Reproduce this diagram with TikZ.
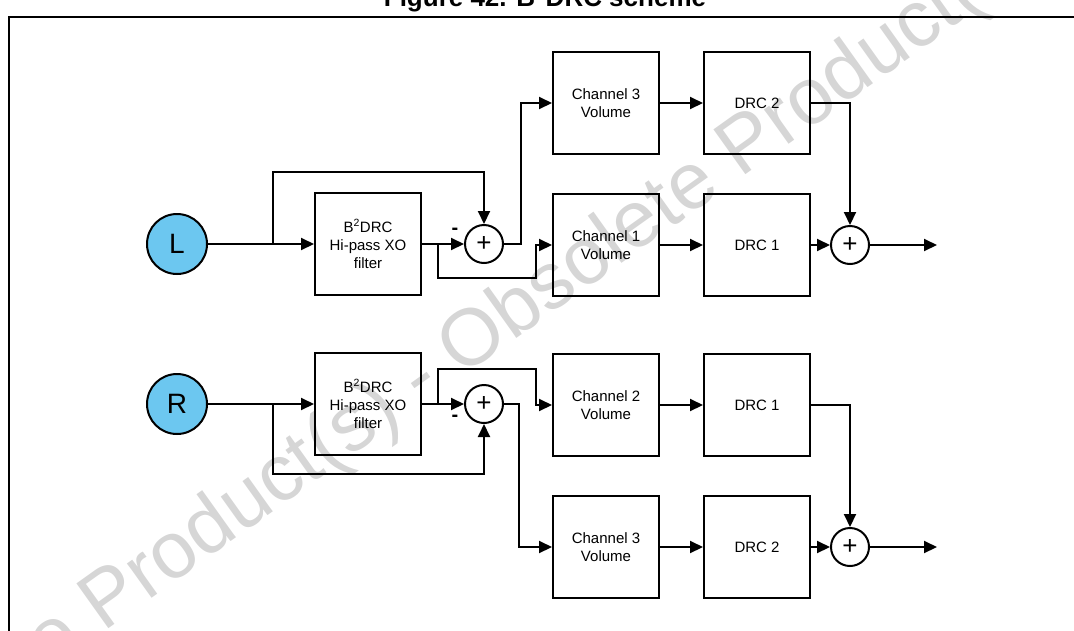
\documentclass[tikz,border=0pt]{standalone}
\usepackage{fontspec}
\setmainfont{Liberation Sans}
\usetikzlibrary{arrows.meta}
\definecolor{inblue}{RGB}{108,199,240}
\definecolor{wmgray}{RGB}{214,214,214}
\begin{document}
\begin{tikzpicture}[x=1pt,y=-1pt,
  blk/.style={draw, line width=2pt, minimum width=106pt, minimum height=102pt, inner sep=0pt, align=center, font=\fontsize{15}{18}\selectfont},
  sumnode/.style={draw, circle, line width=2pt, minimum size=38pt, inner sep=0pt, font=\fontsize{26}{26}\selectfont},
  src/.style={draw, circle, line width=2pt, fill=inblue, minimum size=60pt, inner sep=0pt, font=\fontsize{28}{28}\selectfont},
  arr/.style={line width=2pt, -{Triangle[length=13pt,width=12pt]}},
  minus/.style={font=\bfseries\fontsize{20}{20}\selectfont, inner sep=0pt}
]
\useasboundingbox (0,0) rectangle (1074,630);
\clip (0,0) rectangle (1074,630);

% watermark
\node[rotate=35.5, text=wmgray, font=\fontsize{80}{80}\selectfont, inner sep=0pt] (wm) at (421,381) {Obsolete Product(s) - Obsolete Product(s)};

% title and frame
\node[font=\bfseries\fontsize{26}{26}\selectfont, anchor=base, inner sep=0pt] (title) at (545,6) {Figure 42. B\textsuperscript{2}DRC scheme};
\draw[line width=1.8pt] (9,660) -- (9,17) -- (1100,17);

% ---------- top (L) ----------
\node[src] (L) at (177,244) {L};
\node[blk] (f1) at (368,244) {B\textsuperscript{2}DRC\\Hi-pass XO\\filter};
\node[sumnode] (s1) at (484,244) {+};
\node[blk] (c3a) at (606,103) {Channel 3\\Volume};
\node[blk] (c1) at (606,245) {Channel 1\\Volume};
\node[blk] (d2a) at (757,103) {DRC 2};
\node[blk] (d1a) at (757,245) {DRC 1};
\node[sumnode] (sa) at (850,245) {+};
\coordinate (o1) at (937,245);
\coordinate (b1) at (273,244);
\coordinate (t1) at (273,172);
\coordinate (k1) at (438,244);
\coordinate (m1) at (536,278);
\coordinate (u1) at (521,244);
\node[minus] (mn1) at (455,231) {-};

\draw[arr] (L.east) -- (L.east -| f1.west);
\draw[arr] (b1) -- (t1) -| (s1.north);
\draw[arr] (f1.east) -- (s1.west);
\draw[arr] (k1) |- (m1) |- (c1.west);
\draw[arr] (s1.east) -- (u1) |- (c3a.west);
\draw[arr] (c3a.east) -- (d2a.west);
\draw[arr] (c1.east) -- (d1a.west);
\draw[arr] (d2a.east) -| (sa.north);
\draw[arr] (d1a.east) -- (sa.west);
\draw[arr] (sa.east) -- (o1);

% ---------- bottom (R) ----------
\node[src] (R) at (177,404) {R};
\node[blk] (f2) at (368,404) {B\textsuperscript{2}DRC\\Hi-pass XO\\filter};
\node[sumnode] (s2) at (484,404) {+};
\node[blk] (c2) at (606,405) {Channel 2\\Volume};
\node[blk] (c3b) at (606,547) {Channel 3\\Volume};
\node[blk] (d1b) at (757,405) {DRC 1};
\node[blk] (d2b) at (757,547) {DRC 2};
\node[sumnode] (sb) at (850,547) {+};
\coordinate (o2) at (937,547);
\coordinate (b2) at (273,404);
\coordinate (t2) at (273,474);
\coordinate (k2) at (438,404);
\coordinate (m2) at (536,369);
\coordinate (u2) at (519,404);
\node[minus] (mn2) at (455,418) {-};

\draw[arr] (R.east) -- (R.east -| f2.west);
\draw[arr] (b2) -- (t2) -| (s2.south);
\draw[arr] (f2.east) -- (s2.west);
\draw[arr] (k2) |- (m2) |- (c2.west);
\draw[arr] (s2.east) -- (u2) |- (c3b.west);
\draw[arr] (c2.east) -- (d1b.west);
\draw[arr] (c3b.east) -- (d2b.west);
\draw[arr] (d1b.east) -| (sb.north);
\draw[arr] (d2b.east) -- (sb.west);
\draw[arr] (sb.east) -- (o2);
\end{tikzpicture}
\end{document}
